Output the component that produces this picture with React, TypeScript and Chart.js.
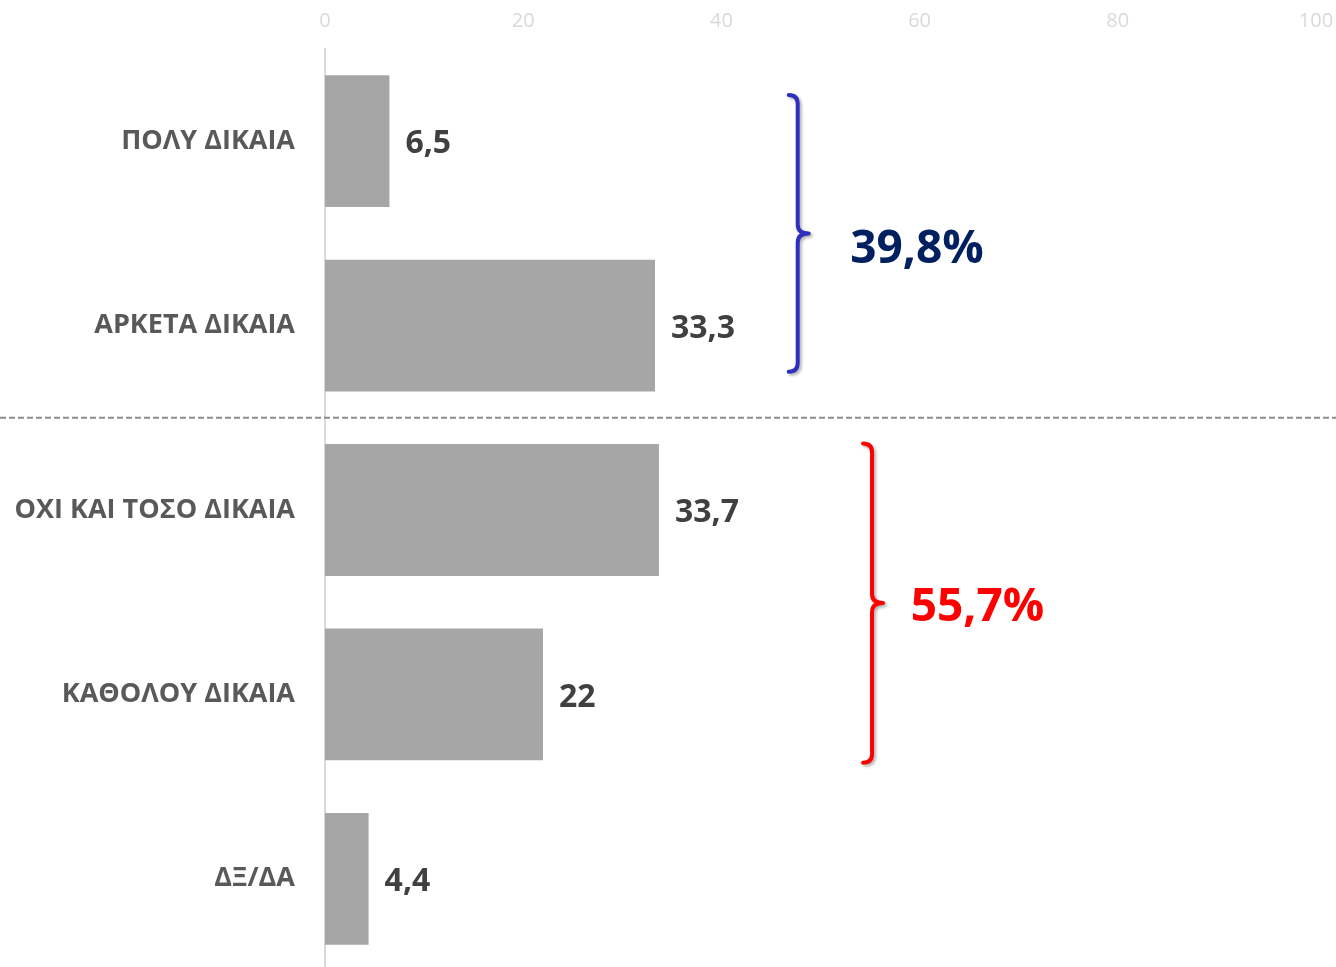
import React, { useEffect, useRef } from "react";
import { Chart, registerables } from "chart.js";

Chart.register(...registerables);

const categories = ["ΠΟΛΥ ΔΙΚΑΙΑ", "ΑΡΚΕΤΑ ΔΙΚΑΙΑ", "ΟΧΙ ΚΑΙ ΤΟΣΟ ΔΙΚΑΙΑ", "ΚΑΘΟΛΟΥ ΔΙΚΑΙΑ", "ΔΞ/ΔΑ"];
const values = [6.5, 33.3, 33.7, 22, 4.4];
const xTicks = [0, 20, 40, 60, 80, 100];

// Group summaries (brace spans by category index)
const groupLabels = ["39,8%", "55,7%"];
const groupColors = ["#2e2ebf", "#ff0000"];
const groupTextColors = ["#002060", "#ff0000"];
const groupStart = [-0.25, 1.64];
const groupEnd = [1.25, 3.37];
const groupBraceX = [47.7, 55.2];
const groupTextX = [53.0, 59.1];
const groupTextY = [0.59, 2.53];

const FONT = "'Open Sans', 'DejaVu Sans', sans-serif";

const fmt = (v: number) => String(v).replace(".", ",");

const overlayPlugin = {
  id: "overlay",
  afterDatasetsDraw(chart: any) {
    const ctx = chart.ctx as CanvasRenderingContext2D;
    const xs = chart.scales.x;
    const ys = chart.scales.y;
    // value labels
    const meta = chart.getDatasetMeta(0);
    ctx.save();
    ctx.font = `bold 32px ${FONT}`;
    ctx.fillStyle = "#404040";
    ctx.textAlign = "left";
    ctx.textBaseline = "middle";
    meta.data.forEach((bar: any, i: number) => {
      ctx.fillText(fmt(values[i]), bar.x + 16, bar.y + 3);
    });
    ctx.restore();

    // dashed separator
    const sy = ys.getPixelForValue(1.5);
    ctx.save();
    ctx.strokeStyle = "#8c8c8c";
    ctx.lineWidth = 2;
    ctx.setLineDash([6, 3]);
    ctx.beginPath();
    ctx.moveTo(0, sy);
    ctx.lineTo(chart.width, sy);
    ctx.stroke();
    ctx.restore();

    // braces
    groupLabels.forEach((label, g) => {
      const top = ys.getPixelForValue(groupStart[g]);
      const bottom = ys.getPixelForValue(groupEnd[g]);
      const mid = (top + bottom) / 2;
      const x = xs.getPixelForValue(groupBraceX[g]);
      const w = 9;
      const r = 9;
      ctx.save();
      ctx.strokeStyle = groupColors[g];
      ctx.lineWidth = 4;
      ctx.lineCap = "round";
      ctx.lineJoin = "round";
      ctx.shadowColor = "rgba(0,0,0,0.3)";
      ctx.shadowBlur = 3;
      ctx.shadowOffsetX = 2;
      ctx.shadowOffsetY = 2;
      ctx.beginPath();
      ctx.moveTo(x - w, top);
      ctx.quadraticCurveTo(x, top, x, top + r);
      ctx.lineTo(x, mid - r);
      ctx.quadraticCurveTo(x, mid, x + w + 2, mid);
      ctx.quadraticCurveTo(x, mid, x, mid + r);
      ctx.lineTo(x, bottom - r);
      ctx.quadraticCurveTo(x, bottom, x - w, bottom);
      ctx.stroke();
      ctx.restore();

      ctx.save();
      ctx.font = `bold 46px ${FONT}`;
      ctx.fillStyle = groupTextColors[g];
      ctx.textAlign = "left";
      ctx.textBaseline = "middle";
      ctx.fillText(label, xs.getPixelForValue(groupTextX[g]), ys.getPixelForValue(groupTextY[g]));
      ctx.restore();
    });
  },
};

export default function App() {
  const ref = useRef<HTMLCanvasElement>(null);
  useEffect(() => {
    document.body.style.margin = "0";
    const chart = new Chart(ref.current!, {
      type: "bar",
      data: {
        labels: categories,
        datasets: [
          {
            data: values,
            backgroundColor: "#a6a6a6",
            borderWidth: 0,
            categoryPercentage: 1,
            barPercentage: 0.715,
          },
        ],
      },
      options: {
        indexAxis: "y",
        animation: false,
        responsive: false,
        maintainAspectRatio: false,
        layout: { padding: 0 },
        plugins: { legend: { display: false }, tooltip: { enabled: false } },
        scales: {
          x: {
            position: "top",
            min: 0,
            max: 100,
            afterBuildTicks: (s: any) => {
              s.ticks = xTicks.map((v) => ({ value: v }));
            },
            afterFit: (s: any) => {
              s.height = 49;
              s.paddingRight = 20;
              s.paddingLeft = 0;
            },
            grid: { display: false },
            border: { display: false },
            ticks: {
              color: "#d9d9d9",
              font: { family: FONT, size: 20 },
              padding: 8,
            },
          },
          y: {
            afterFit: (s: any) => {
              s.width = 325;
              s.paddingTop = 0;
              s.paddingBottom = 0;
            },
            grid: { display: false, drawTicks: false },
            border: { display: true, color: "#d9d9d9", width: 2 },
            ticks: {
              color: "#595959",
              font: { family: FONT, size: 27, weight: "bold" },
              padding: 30,
            },
          },
        },
      },
      plugins: [overlayPlugin],
    });
    return () => chart.destroy();
  }, []);
  return (
    <div style={{ position: "fixed", left: 0, top: 0, width: 1336, height: 967, overflow: "hidden", background: "#fff" }}>
      <canvas ref={ref} width={1336} height={971} style={{ display: "block", width: 1336, height: 971 }} />
    </div>
  );
}
